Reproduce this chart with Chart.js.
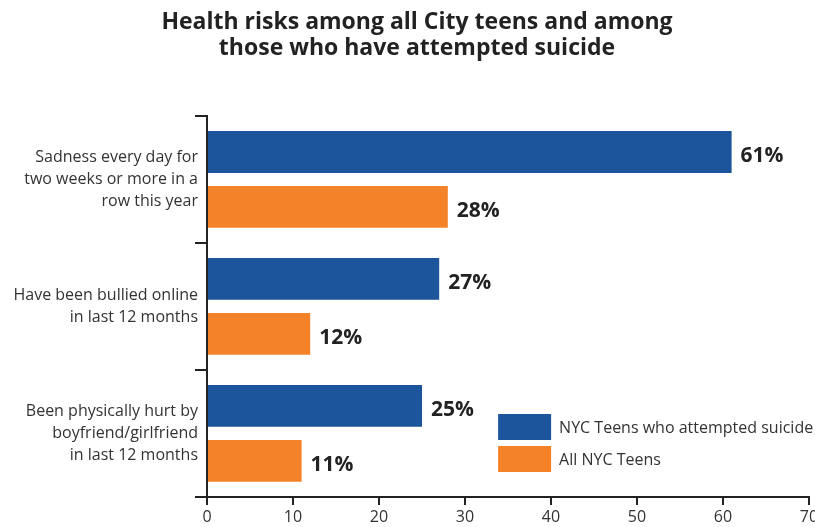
<!DOCTYPE html>
<html><head><meta charset="utf-8">
<script src="https://cdn.jsdelivr.net/npm/chart.js@4.4.0/dist/chart.umd.min.js"></script>
<style>html,body{margin:0;padding:0;background:#fff;}#wrap{width:815px;height:527px;}</style>
</head><body><div id="wrap"><canvas id="c" width="815" height="527"></canvas></div>
<script>
const categories = [
  ["Sadness every day for", "two weeks or more in a", "row this year"],
  ["Have been bullied online", "in last 12 months"],
  ["Been physically hurt by", "boyfriend/girlfriend", "in last 12 months"]
];
const seriesNames = ["NYC Teens who attempted suicide", "All NYC Teens"];
const attemptedValues = [61, 27, 25];
const allTeensValues = [28, 12, 11];
const xTicks = [0, 10, 20, 30, 40, 50, 60, 70];
const titleLines = ["Health risks among all City teens and among", "those who have attempted suicide"];

const BLUE = "#1c559b";
const ORANGE = "#f38228";
const FONT = "'Open Sans', sans-serif";

const titleDraw = {
  id: "titleDraw",
  afterDraw(chart) {
    const ctx = chart.ctx;
    ctx.save();
    ctx.font = "bold 23px " + FONT;
    ctx.fillStyle = "#222";
    ctx.textAlign = "center";
    ctx.textBaseline = "middle";
    titleLines.forEach((t, i) => ctx.fillText(t, 417, 22 + i * 26));
    ctx.restore();
  }
};

const valueLabels = {
  id: "valueLabels",
  afterDatasetsDraw(chart) {
    const ctx = chart.ctx;
    ctx.save();
    ctx.font = "bold 21px " + FONT;
    ctx.fillStyle = "#222";
    ctx.textBaseline = "middle";
    ctx.textAlign = "left";
    chart.data.datasets.forEach((ds, i) => {
      chart.getDatasetMeta(i).data.forEach((bar, j) => {
        ctx.fillText(ds.data[j] + "%", bar.x + 9, bar.y + 4);
      });
    });
    ctx.restore();
  }
};

const customLegend = {
  id: "customLegend",
  afterDraw(chart) {
    const ctx = chart.ctx;
    const x0 = chart.scales.x.getPixelForValue(33.85);
    let y0 = 414;
    ctx.save();
    ctx.font = "16px " + FONT;
    ctx.textBaseline = "middle";
    chart.data.datasets.forEach((ds) => {
      ctx.fillStyle = ds.backgroundColor;
      ctx.fillRect(x0, y0, 53, 26);
      ctx.fillStyle = "#333";
      ctx.fillText(ds.label, x0 + 61, y0 + 14);
      y0 += 32;
    });
    ctx.restore();
  }
};

new Chart(document.getElementById("c"), {
  type: "bar",
  data: {
    labels: categories,
    datasets: [
      { label: seriesNames[0], data: attemptedValues, backgroundColor: BLUE },
      { label: seriesNames[1], data: allTeensValues, backgroundColor: ORANGE }
    ]
  },
  options: {
    indexAxis: "y",
    responsive: false,
    animation: false,
    devicePixelRatio: 1,
    layout: { padding: { left: 0, right: 6, top: 116, bottom: 0 } },
    datasets: { bar: { categoryPercentage: 0.866, barPercentage: 0.76 } },
    plugins: {
      legend: { display: false },
      tooltip: { enabled: false },
      title: { display: false }
    },
    scales: {
      x: {
        min: 0, max: 70,
        afterBuildTicks(scale) { scale.ticks = xTicks.map(v => ({ value: v })); },
        afterFit(scale) { scale.paddingRight = 0; scale.paddingLeft = 0; scale.height = 30; },
        grid: { drawOnChartArea: false, drawTicks: true, tickLength: 8, color: "#222", lineWidth: 2 },
        border: { color: "#222", width: 2 },
        ticks: { color: "#333", font: { family: FONT, size: 16, lineHeight: 1.1 }, padding: 4, maxRotation: 0 }
      },
      y: {
        afterFit(scale) { scale.width = 207; },
        grid: { drawOnChartArea: false, drawTicks: true, tickLength: 12, color: "#222", lineWidth: 2 },
        border: { color: "#222", width: 2 },
        ticks: { color: "#333", font: { family: FONT, size: 16, lineHeight: 1.38 }, padding: -3 }
      }
    }
  },
  plugins: [valueLabels, customLegend, titleDraw]
});
</script></body></html>
